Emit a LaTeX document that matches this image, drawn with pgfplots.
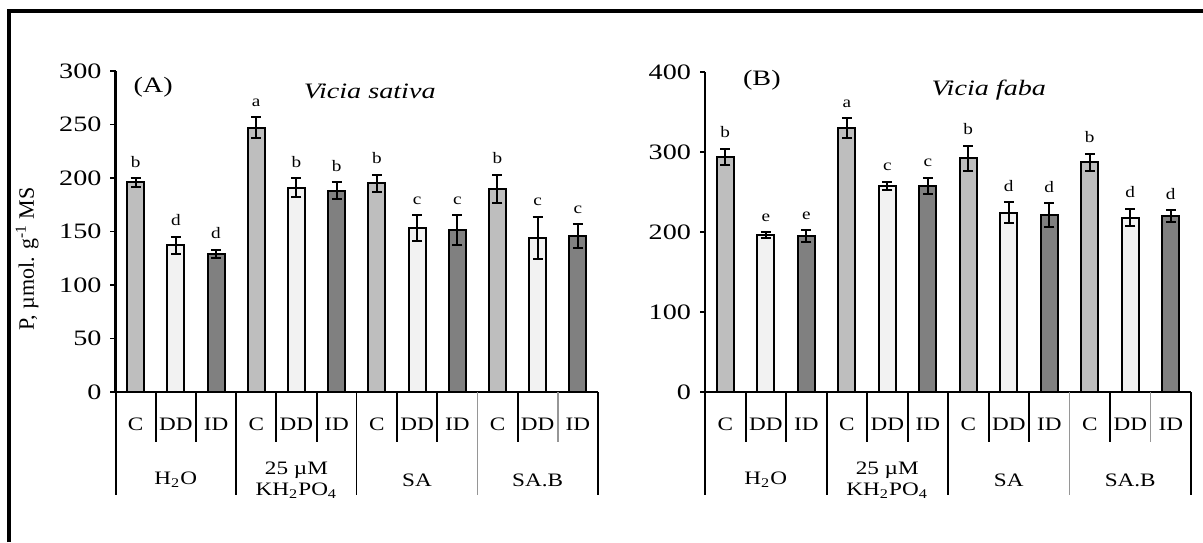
\documentclass[border=0pt]{standalone}
\usepackage{pgfplots}
\pgfplotsset{compat=1.18}
\usepackage{fontspec}
\setmainfont{Liberation Serif}

\definecolor{barC}{RGB}{190,190,190}
\definecolor{barDD}{RGB}{242,242,242}
\definecolor{barID}{RGB}{128,128,128}
\definecolor{tblgray}{RGB}{150,150,150}

% common look of both panels
\pgfplotsset{
  panel/.style={
    ybar, bar width=8.5pt, bar shift=0pt,
    scale only axis, clip=false, enlargelimits=false,
    axis lines*=left,
    axis line style={-, line width=1.1pt},
    xmin=-0.5, xmax=11.5, ymin=0,
    xtick={0,...,11},
    xticklabels={C,DD,ID,C,DD,ID,C,DD,ID,C,DD,ID},
    extra x ticks={1,4,7,10},
    extra x tick labels={H\textsubscript{2}O,{25 µM\\KH\textsubscript{2}PO\textsubscript{4}},SA,SA.B},
    extra x tick style={xticklabel style={yshift=-28pt}},
    x tick style={draw=none},
    xticklabel style={anchor=center, yshift=-13.5pt, align=center,
      font=\fontsize{9.5}{10.5}\selectfont, xscale=1.22},
    tick align=outside, major tick length=2.5pt,
    y tick style={black, line width=0.9pt},
    yticklabel style={font=\fontsize{11}{12}\selectfont, xscale=1.28},
    /pgf/number format/assume math mode=true,
  },
  errbar/.style={
    draw=black, line width=1pt, bar shift=0pt,
    error bars/.cd, y dir=both, y explicit,
    error bar style={line width=1pt, black},
    error mark options={rotate=90, mark size=2.5pt, line width=1pt, black},
  },
  letters/.style={
    draw=none, fill=none, bar shift=0pt,
    nodes near coords, point meta=explicit symbolic,
    every node near coord/.append style={anchor=base, yshift=5.5pt,
      font=\fontsize{8}{9}\selectfont, xscale=1.2, black},
  },
}

% grid of the category table under the x axis
\newcommand\tline[3]{\draw[#1] (axis cs:#2,0) -- ([yshift=-#3]axis cs:#2,0);}
\newcommand\tablelines{%
  \tline{line width=1pt}{-0.5}{51.5pt}
  \tline{line width=1pt}{2.5}{51.5pt}
  \tline{line width=0.6pt}{5.5}{51.5pt}
  \tline{line width=0.8pt, tblgray}{8.5}{51.5pt}
  \tline{line width=1pt}{11.5}{51.5pt}
  \tline{line width=1pt}{0.5}{25pt}
  \tline{line width=1pt}{1.5}{25pt}
  \tline{line width=1pt}{3.5}{25pt}
  \tline{line width=1pt}{4.5}{25pt}
  \tline{line width=1pt}{6.5}{25pt}
  \tline{line width=1pt}{7.5}{25pt}
  \tline{line width=1pt}{9.5}{25pt}
  \tline{line width=0.8pt, tblgray}{10.5}{25pt}
}

\begin{document}
\begin{tikzpicture}
\path[use as bounding box] (0,0) rectangle (601.5pt,271pt);
\draw[line width=1.75pt] (4.5pt,0) -- (4.5pt,265.5pt) -- (601.5pt,265.5pt);

% (A) Vicia sativa
\begin{axis}[panel,
  at={(57.75pt,75pt)}, anchor=south west,
  width=241.25pt, height=160.5pt,
  ymax=300, ytick={0,50,...,300},
  ylabel={P, µmol. g\textsuperscript{-1} MS},
  ylabel style={at={(axis description cs:-0.183,0.415)}, anchor=center,
    font=\fontsize{11}{12}\selectfont},
]
\addplot[fill=barC, errbar] coordinates {
  (0,196) +- (0,4) (3,247) +- (0,10) (6,195) +- (0,8) (9,190) +- (0,13)};
\addplot[fill=barDD, errbar] coordinates {
  (1,137) +- (0,8) (4,191) +- (0,9) (7,153) +- (0,12) (10,144) +- (0,20)};
\addplot[fill=barID, errbar] coordinates {
  (2,129) +- (0,4) (5,188) +- (0,8) (8,151) +- (0,14) (11,146) +- (0,11)};
\addplot[letters] coordinates {
  (0,200) [b] (1,145) [d] (2,133) [d] (3,257) [a] (4,200) [b] (5,196) [b]
  (6,203) [b] (7,165) [c] (8,165) [c] (9,203) [b] (10,164) [c] (11,157) [c]};
\tablelines
\node[font=\fontsize{11}{12}\selectfont, xscale=1.28] at (rel axis cs:0.078,0.95) {(A)};
\node[font=\fontsize{11}{12}\selectfont\itshape, xscale=1.28] at (rel axis cs:0.527,0.935) {Vicia sativa};
\end{axis}

% (B) Vicia faba
\begin{axis}[panel,
  at={(352.5pt,75pt)}, anchor=south west,
  width=243pt, height=160pt,
  ymax=400, ytick={0,100,...,400},
]
\addplot[fill=barC, errbar] coordinates {
  (0,294) +- (0,10) (3,330) +- (0,12) (6,292) +- (0,16) (9,287) +- (0,11)};
\addplot[fill=barDD, errbar] coordinates {
  (1,196) +- (0,4) (4,258) +- (0,5) (7,224) +- (0,13) (10,218) +- (0,11)};
\addplot[fill=barID, errbar] coordinates {
  (2,195) +- (0,7) (5,258) +- (0,10) (8,221) +- (0,15) (11,220) +- (0,7)};
\addplot[letters] coordinates {
  (0,304) [b] (1,200) [e] (2,202) [e] (3,342) [a] (4,263) [c] (5,268) [c]
  (6,308) [b] (7,237) [d] (8,236) [d] (9,298) [b] (10,229) [d] (11,227) [d]};
\tablelines
\node[font=\fontsize{11}{12}\selectfont, xscale=1.28] at (rel axis cs:0.117,0.975) {(B)};
\node[font=\fontsize{11}{12}\selectfont\itshape, xscale=1.28] at (rel axis cs:0.584,0.944) {Vicia faba};
\end{axis}
\end{tikzpicture}
\end{document}
